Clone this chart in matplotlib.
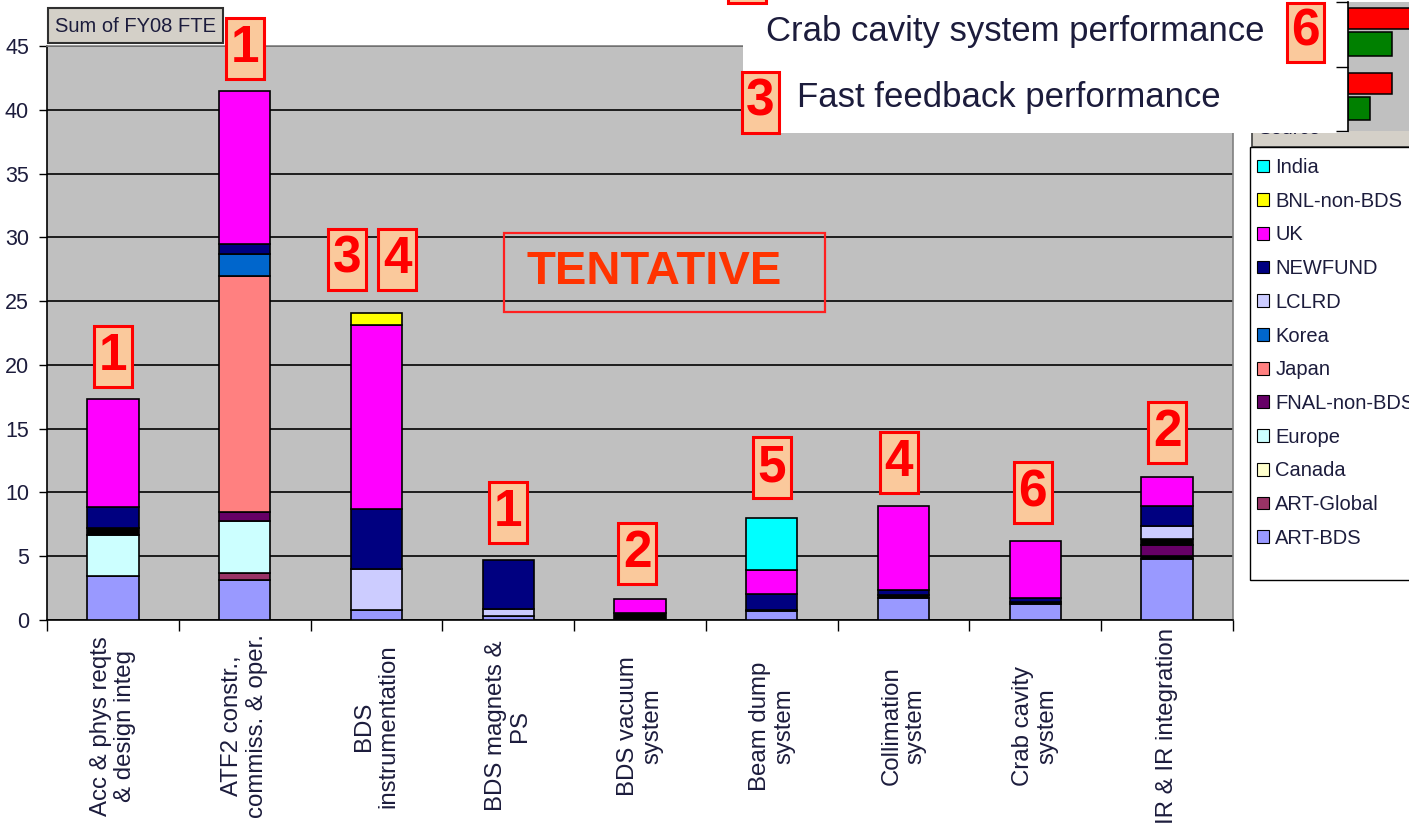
import matplotlib
matplotlib.use("Agg")
import matplotlib.pyplot as plt
import matplotlib.transforms as mtransforms
from matplotlib.patches import Rectangle, Patch
import numpy as np

plt.rcParams['font.family'] = ['Liberation Sans', 'DejaVu Sans']

W, H = 1409, 824


def fx(px):
    return px / W


def fy(py):
    return 1 - py / H


categories = [
    "Acc & phys reqts\n& design integ",
    "ATF2 constr.,\ncommiss. & oper.",
    "BDS\ninstrumentation",
    "BDS magnets &\nPS",
    "BDS vacuum\nsystem",
    "Beam dump\nsystem",
    "Collimation\nsystem",
    "Crab cavity\nsystem",
    "IR & IR integration",
]

# Sum of FY08 FTE per source (stacked bottom to top)
art_bds = [3.45, 3.1, 0.75, 0.3, 0.0, 0.7, 1.75, 1.25, 4.8]
unlisted_a = [0.0, 0.0, 0.0, 0.0, 0.55, 0.1, 0.2, 0.15, 0.25]
art_global = [0.0, 0.6, 0.0, 0.0, 0.0, 0.0, 0.0, 0.0, 0.0]
canada = [0.0, 0.0, 0.0, 0.0, 0.0, 0.0, 0.0, 0.0, 0.0]
europe = [3.25, 4.1, 0.0, 0.0, 0.0, 0.0, 0.0, 0.0, 0.0]
fnal_non_bds = [0.0, 0.7, 0.0, 0.0, 0.0, 0.0, 0.0, 0.0, 0.8]
unlisted_b = [0.5, 0.0, 0.0, 0.0, 0.0, 0.0, 0.0, 0.0, 0.5]
japan = [0.0, 18.5, 0.0, 0.0, 0.0, 0.0, 0.0, 0.0, 0.0]
korea = [0.0, 1.7, 0.0, 0.0, 0.0, 0.0, 0.0, 0.0, 0.0]
lclrd = [0.0, 0.0, 3.25, 0.6, 0.0, 0.0, 0.0, 0.0, 1.05]
newfund = [1.65, 0.75, 4.7, 3.8, 0.0, 1.2, 0.4, 0.3, 1.55]
uk = [8.5, 12.05, 14.4, 0.0, 1.1, 1.9, 6.6, 4.5, 2.25]
bnl_non_bds = [0.0, 0.0, 1.0, 0.0, 0.0, 0.0, 0.0, 0.0, 0.0]
india = [0.0, 0.0, 0.0, 0.0, 0.0, 4.1, 0.0, 0.0, 0.0]

series = [
    ("ART-BDS", art_bds, "#9999FF"),
    (None, unlisted_a, "#000000"),
    ("ART-Global", art_global, "#993366"),
    ("Canada", canada, "#FFFFCC"),
    ("Europe", europe, "#CCFFFF"),
    ("FNAL-non-BDS", fnal_non_bds, "#660066"),
    (None, unlisted_b, "#000000"),
    ("Japan", japan, "#FF8080"),
    ("Korea", korea, "#0066CC"),
    ("LCLRD", lclrd, "#CCCCFF"),
    ("NEWFUND", newfund, "#000080"),
    ("UK", uk, "#FF00FF"),
    ("BNL-non-BDS", bnl_non_bds, "#FFFF00"),
    ("India", india, "#00FFFF"),
]

# small inset chart pasted at top right
perf_items = ["Crab cavity system performance", "Fast feedback performance"]
perf_red = [0.8, 0.44]
perf_green = [0.44, 0.22]

text_col = "#1c1c3c"
peach = "#FAC99C"

fig = plt.figure(figsize=(W / 100, H / 100), dpi=100)
ax = fig.add_axes([fx(47), fy(620), fx(1233) - fx(47), fy(46) - fy(620)])
ax.set_facecolor("#C0C0C0")

x = np.arange(len(categories))
bottom = np.zeros(len(categories))
handles = []
for name, vals, col in series:
    v = np.array(vals)
    m = v > 0
    ax.bar(x[m], v[m], bottom=bottom[m], width=0.39, color=col,
           edgecolor="black", linewidth=1.2, zorder=3)
    bottom += v
    if name:
        handles.append(Patch(facecolor=col, edgecolor="black", linewidth=0.8, label=name))
totals = bottom

ax.set_xlim(-0.5, len(categories) - 0.5)
ax.set_ylim(0, 45)
ax.set_yticks(range(0, 46, 5))
ax.yaxis.grid(True, color="#101010", linewidth=1.3, zorder=1)
ax.set_axisbelow(True)
ax.set_xticks(np.arange(-0.5, len(categories), 1.0))
ax.set_xticklabels([])
ax.tick_params(axis="x", length=8, width=1, direction="out")
ax.tick_params(axis="y", length=6, width=1, pad=7, labelsize=15.5, labelcolor=text_col)
for s in ["left", "bottom"]:
    ax.spines[s].set_color("black")
    ax.spines[s].set_linewidth(1.2)
for s in ["top", "right"]:
    ax.spines[s].set_color("#808080")
    ax.spines[s].set_linewidth(1.2)

trans = mtransforms.blended_transform_factory(ax.transData, fig.transFigure)
for i, lab in enumerate(categories):
    ax.text(i, fy(726), lab, transform=trans, rotation=90, ha="center", va="center",
            multialignment="center", fontsize=17.3, color=text_col, linespacing=1.15)

# numbered priority tags
box_w, box_h = 0.288, 4.78
tags = [(0, "1", 0.0, 0.95), (1, "1", 0.0, 0.9), (2, "3", -0.224, 1.8), (2, "4", 0.156, 1.8),
        (3, "1", 0.0, 1.3), (4, "2", -0.02, 1.15), (5, "5", 0.0, 1.55), (6, "4", -0.035, 1.0),
        (7, "6", -0.02, 1.4), (8, "2", 0.0, 1.1)]
for cat, lab, dx, gap in tags:
    cx = cat + dx
    y0 = totals[cat] + gap
    ax.add_patch(Rectangle((cx - box_w / 2, y0), box_w, box_h, facecolor=peach,
                           edgecolor="#FF0000", linewidth=2.2, zorder=6, clip_on=False))
    ax.text(cx, y0 + box_h / 2, lab, ha="center", va="center", fontsize=37,
            fontweight="bold", color="#FF0000", zorder=7, clip_on=False)

# TENTATIVE stamp
fig.patches.append(Rectangle((fx(504), fy(312)), fx(825) - fx(504), fy(233) - fy(312),
                             transform=fig.transFigure, fill=False, edgecolor="#FF2020",
                             linewidth=1.6, zorder=4))
fig.text(fx(654), fy(272), "TENTATIVE", ha="center", va="center", fontsize=34,
         fontweight="bold", color="#FF3300", zorder=4)

# pivot field button
fig.patches.append(Rectangle((fx(48), fy(43)), fx(223) - fx(48), fy(8) - fy(43),
                             transform=fig.transFigure, facecolor="#D4D0C8",
                             edgecolor="#303030", linewidth=1.5, zorder=4))
fig.text(fx(135.5), fy(26), "Sum of FY08 FTE", ha="center", va="center", fontsize=14.5,
         color=text_col, zorder=5)

# legend with its field button
fig.patches.append(Rectangle((fx(1252), fy(147)), fx(1420) - fx(1252), fy(118) - fy(147),
                             transform=fig.transFigure, facecolor="#D4D0C8",
                             edgecolor="#404040", linewidth=1.2, zorder=4))
fig.text(fx(1258), fy(130), "Source", ha="left", va="center", fontsize=14,
         color=text_col, zorder=4)
fig.patches.append(Rectangle((fx(1250), fy(580)), fx(1420) - fx(1250), fy(147) - fy(580),
                             transform=fig.transFigure, facecolor="white",
                             edgecolor="black", linewidth=1.0, zorder=4))
leg = fig.legend(handles=handles[::-1], loc="upper left",
                 bbox_to_anchor=(fx(1245), fy(146)), fontsize=14.5, frameon=False,
                 handlelength=0.6, handleheight=0.6,
                 handletextpad=0.3, labelspacing=0.73, borderpad=0.6, borderaxespad=0)
leg.set_zorder(5)
for t in leg.get_texts():
    t.set_color(text_col)

# pasted overlay at top right
fig.patches.append(Rectangle((fx(743), fy(133)), fx(1348) - fx(743), fy(0) - fy(133),
                             transform=fig.transFigure, facecolor="white",
                             edgecolor="none", zorder=8))
fig.text(fx(766), fy(31), perf_items[0], ha="left", va="center", fontsize=25,
         color=text_col, zorder=9)
fig.text(fx(797), fy(97), perf_items[1], ha="left", va="center", fontsize=25,
         color=text_col, zorder=9)


def fig_tag(x0, y0, x1, y1, lab):
    fig.patches.append(Rectangle((fx(x0), fy(y1)), fx(x1) - fx(x0), fy(y0) - fy(y1),
                                 transform=fig.transFigure, facecolor=peach,
                                 edgecolor="#FF0000", linewidth=2.2, zorder=9))
    if lab:
        fig.text(fx((x0 + x1) / 2), fy((y0 + y1) / 2), lab, ha="center", va="center",
                 fontsize=37, fontweight="bold", color="#FF0000", zorder=10)


fig_tag(1287, 3, 1324, 62, "6")
fig_tag(742, 72, 779, 133, "3")
fig_tag(728, -60, 766, 3, "")

ins = fig.add_axes([fx(1348), fy(131), 100 / W, fy(2) - fy(131)])
ins.set_zorder(9)
ins.set_facecolor("#C0C0C0")
yy = np.arange(len(perf_items))
ins.barh(yy - 0.24, perf_red, height=0.33, color="#FF0000", edgecolor="black", linewidth=1.1)
ins.barh(yy + 0.15, perf_green, height=0.36, color="#008000", edgecolor="black", linewidth=1.1)
ins.set_ylim(1.5, -0.5)
ins.set_xlim(0, 1)
ins.set_yticks([-0.5, 0.5, 1.5])
ins.set_yticklabels([])
ins.set_xticks([])
ins.tick_params(axis="y", length=9, width=1)
for s in ["top", "right", "bottom"]:
    ins.spines[s].set_visible(False)
ins.spines["left"].set_linewidth(1.2)

fig.savefig("out.png", dpi=100)
